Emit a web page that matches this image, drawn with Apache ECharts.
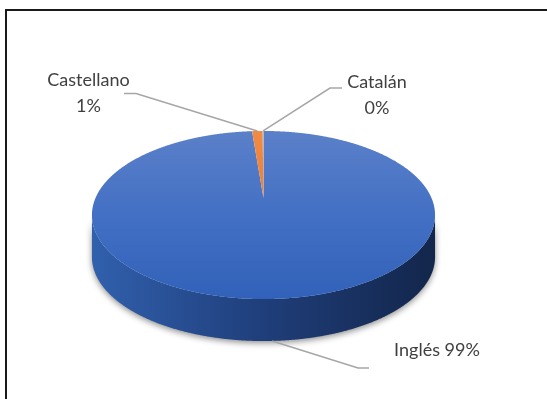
<!DOCTYPE html>
<html>
<head>
<meta charset="utf-8">
<script src="https://cdn.jsdelivr.net/npm/echarts@6/dist/echarts.min.js"></script>
<style>
  html, body { margin: 0; padding: 0; background: #ffffff; }
  #chart { width: 547px; height: 399px; }
</style>
</head>
<body>
<div id="chart"></div>
<script>
// Language shares (percent)
const languages = ['Inglés', 'Castellano', 'Catalán'];
const shares = [98.7, 1.2, 0.1];

// Slice colours: top face and side wall
const topColors = [
  ['#5b80c9', '#4370c4', '#3161b9'],
  ['#f08a45', '#ed7d31', '#e0702a'],
  ['#b3b3b3', '#a5a5a5', '#999999']
];
const sideColors = [
  ['#3160ad', '#1f3e7a', '#13264b'],
  ['#c86420', '#a85218', '#8a4212'],
  ['#8c8c8c', '#767676', '#606060']
];

// Label placement: text centre, and the leader line's elbow point next to the text
const labelLayout = [
  { twoLines: false, x: 437, y: 350, elbow: [358, 368], end: [369, 368], onBottom: true },
  { twoLines: true, x: 88.5, y: 93, elbow: [136, 93.5], end: [124, 93.5], onBottom: false },
  { twoLines: true, x: 377, y: 95, elbow: [330, 88], end: [342, 88], onBottom: false }
];

// Tilted-disc projection
const CX = 263.5, CY = 198, A = 168, B = 80.6, K = 0.2024, DEPTH = 42;
const EY = CY + B * K / (1 - K * K);      // vertical centre of the rim ellipse
const RX = A / Math.sqrt(1 - K * K);      // half width of the rim ellipse

function project(deg) {
  const r = deg * Math.PI / 180;
  const u = Math.sin(r), v = -Math.cos(r);
  const d = 1 - K * v;
  return [CX + A * u / d, CY + B * v / d];
}

const total = shares.reduce((s, v) => s + v, 0);
const starts = [];
shares.reduce((acc, v, i) => { starts[i] = acc; return acc + v; }, 0);

function renderSlice(params, api) {
  const i = params.dataIndex;
  const value = api.value(0);
  const a0 = starts[i] / total * 360;
  const a1 = a0 + value / total * 360;
  const children = [];

  // rim samples
  const rim = [];
  const steps = Math.max(2, Math.ceil((a1 - a0) / 0.25));
  for (let s = 0; s <= steps; s++) rim.push(project(a0 + (a1 - a0) * s / steps));

  // side wall (front half only)
  const front = rim.filter(p => p[1] >= EY - 0.01);
  if (front.length >= 2) {
    const bottom = front.map(p => [p[0], p[1] + DEPTH]).reverse();
    children.push({
      type: 'polygon',
      z2: 1,
      shape: { points: front.concat(bottom) },
      style: {
        fill: new echarts.graphic.LinearGradient(CX - RX, 0, CX + RX, 0, [
          { offset: 0, color: sideColors[i][0] },
          { offset: 0.5, color: sideColors[i][1] },
          { offset: 1, color: sideColors[i][2] }
        ], true),
        shadowBlur: 6,
        shadowOffsetY: 2,
        shadowColor: 'rgba(0,0,0,0.45)'
      }
    });
  }

  // top face
  children.push({
    type: 'polygon',
    z2: 2,
    shape: { points: [[CX, CY]].concat(rim) },
    style: {
      fill: new echarts.graphic.LinearGradient(0, EY - 84, 0, EY + 84, [
        { offset: 0, color: topColors[i][0] },
        { offset: 0.5, color: topColors[i][1] },
        { offset: 1, color: topColors[i][2] }
      ], true)
    }
  });

  // label and leader line
  const lay = labelLayout[i];
  const mid = project((a0 + a1) / 2);
  const anchor = lay.onBottom ? [mid[0], mid[1] + DEPTH] : mid;
  children.push({
    type: 'polyline',
    z2: 3,
    shape: { points: [anchor, lay.elbow, lay.end] },
    style: { stroke: '#a6a6a6', lineWidth: 1.5, fill: null }
  });
  const pct = Math.round(value / total * 100) + '%';
  children.push({
    type: 'text',
    z2: 4,
    style: {
      text: languages[i] + (lay.twoLines ? '\n' : ' ') + pct,
      x: lay.x,
      y: lay.y,
      align: 'center',
      verticalAlign: 'middle',
      lineHeight: 26,
      font: '18px Lato, "Open Sans", sans-serif',
      fill: '#404040'
    }
  });

  return { type: 'group', children: children };
}

const chart = echarts.init(document.getElementById('chart'), null, { renderer: 'canvas' });
chart.setOption({
  animation: false,
  backgroundColor: '#ffffff',
  graphic: [{
    type: 'rect',
    shape: { x: 6, y: 10, width: 600, height: 450 },
    style: { fill: null, stroke: '#1a1a1a', lineWidth: 2 },
    silent: true
  }],
  series: [{
    type: 'custom',
    coordinateSystem: 'none',
    renderItem: renderSlice,
    data: shares.map(v => [v])
  }]
});
</script>
</body>
</html>
